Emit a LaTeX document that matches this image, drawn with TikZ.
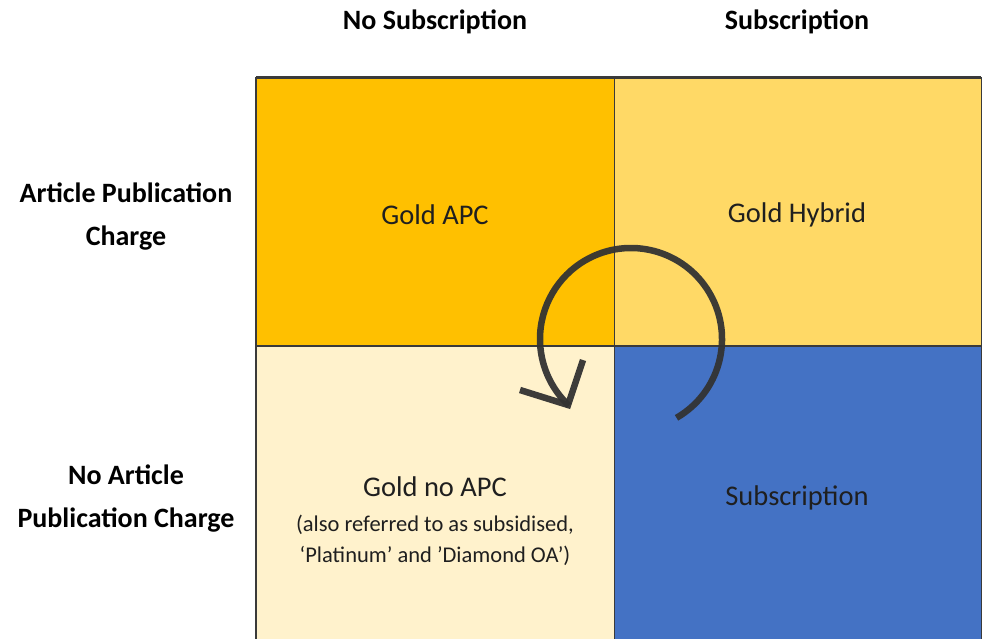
\documentclass[tikz,border=0pt]{standalone}
\usepackage{fontspec}
\setmainfont{Carlito}
\usetikzlibrary{arrows.meta}
\definecolor{goldapc}{HTML}{FFC000}
\definecolor{goldhyb}{HTML}{FFD966}
\definecolor{goldno}{HTML}{FFF2CC}
\definecolor{subs}{HTML}{4472C4}
\definecolor{gridc}{HTML}{3A3A3A}
\definecolor{arrc}{HTML}{333333}
\tikzset{
  head/.style={font=\bfseries\fontsize{28}{43}\selectfont, align=center, text=black},
  celltext/.style={font=\fontsize{28.5}{31}\selectfont, align=center, text=black!88},
  cell/.style={draw=gridc, line width=1pt},
}
\begin{document}
\begin{tikzpicture}[x=1pt,y=-1pt]
\useasboundingbox (0,0) rectangle (984,638);
\fill[white] (0,0) rectangle (984,638);
% cells
\filldraw[cell, fill=goldapc] (256,77) rectangle (614,346);
\filldraw[cell, fill=goldhyb] (614,77) rectangle (981,346);
\filldraw[cell, fill=goldno] (256,346) rectangle (614,640);
\filldraw[cell, fill=subs] (614,346) rectangle (981,640);
\draw[gridc, line width=3pt] (256,77) -- (981,77);
\draw[gridc, line width=2pt] (256,77) -- (256,640);
\draw[gridc, line width=2pt] (256,346) -- (981,346);
% headers
\node[head] (h1) at (435,22) {No Subscription};
\node[head] (h2) at (797,22) {Subscription};
\node[head] (r1) at (126,217) {Article Publication\\Charge};
\node[head] (r2) at (126,499) {No Article\\Publication Charge};
% cell labels
\node[celltext] (c1) at (435,215) {Gold APC};
\node[celltext] (c2) at (797,215) {Gold Hybrid};
\node[celltext] (c3) at (797,498) {Subscription};
\node[celltext] (c4) at (435,521) {Gold no APC\\[4pt]{\fontsize{22.5}{31}\selectfont (also referred to as subsidised,}\\{\fontsize{22.5}{31}\selectfont ‘Platinum’ and ’Diamond OA’)}};
% circular arrow
\coordinate (cc) at (631,339);
\draw[arrc, line width=6.5pt, opacity=0.95] (cc) ++(60:91) arc[start angle=60, end angle=-227, radius=91];
\coordinate (tip) at (568,405);
\draw[arrc, line width=6.5pt, opacity=0.95, line join=miter] (520,390) -- (tip) -- (583,360);
\end{tikzpicture}
\end{document}
